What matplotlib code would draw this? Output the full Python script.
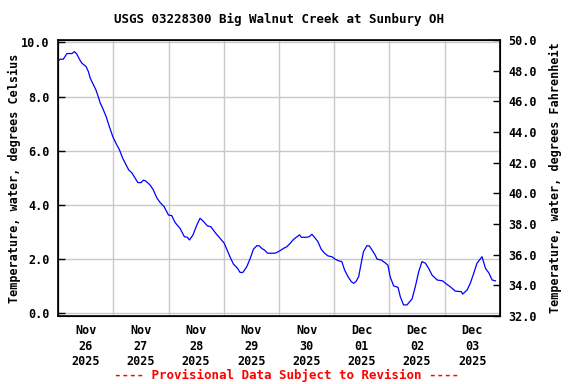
import matplotlib
matplotlib.use("Agg")
import matplotlib.pyplot as plt

# hours since Nov 26 2025 00:00 and water temperature (deg C)
hours = [0.3, 0.9, 2.3, 3.9, 6.1, 7.1, 8.1, 9.3, 10.4, 12.2, 13.2, 14.0, 15.1, 16.5,
         17.7, 18.4, 19.4, 20.9, 22.3, 23.8, 25.2, 26.7, 28.1, 29.6, 30.7, 32.0, 34.7,
         36.1, 37.1, 38.1, 40.0, 41.4, 42.9, 44.3, 46.1, 48.0, 49.4, 50.9, 53.0, 54.9,
         56.2, 57.1, 58.6, 60.3, 61.7, 62.9, 64.9, 66.4, 68.3, 70.4, 72.2, 73.3, 74.8,
         76.2, 78.0, 79.1, 80.3, 82.0, 83.5, 84.9, 86.4, 87.5, 88.6, 89.7, 91.0, 94.3,
         95.8, 98.0, 99.4, 100.9, 102.3, 103.8, 104.9, 105.7, 108.1, 109.1, 110.3, 111.4,
         112.9, 114.3, 115.8, 117.3, 119.0, 120.4, 121.9, 123.3, 124.5, 126.0, 127.4,
         128.4, 129.4, 130.6, 131.7, 132.7, 134.2, 135.2, 136.4, 137.8, 138.6, 140.4,
         142.2, 143.3, 144.3, 145.8, 147.7, 148.7, 150.1, 151.6, 153.8, 155.2, 156.7,
         158.1, 159.6, 161.0, 162.5, 164.7, 167.1, 168.3, 170.4, 172.6, 175.2, 175.8,
         177.7, 179.1, 180.6, 182.0, 184.2, 185.7, 187.1, 188.6, 190.0]
temp_c = [9.33, 9.38, 9.38, 9.59, 9.59, 9.66, 9.58, 9.38, 9.23, 9.11, 8.92, 8.68, 8.49, 8.24,
          7.94, 7.75, 7.57, 7.26, 6.89, 6.52, 6.27, 6.03, 5.72, 5.47, 5.29, 5.19, 4.82,
          4.82, 4.91, 4.88, 4.73, 4.55, 4.26, 4.09, 3.93, 3.62, 3.60, 3.34, 3.13, 2.82,
          2.80, 2.70, 2.88, 3.25, 3.50, 3.41, 3.22, 3.19, 2.97, 2.76, 2.58, 2.36, 2.06,
          1.81, 1.65, 1.50, 1.50, 1.71, 2.02, 2.36, 2.49, 2.48, 2.38, 2.33, 2.21, 2.21,
          2.27, 2.39, 2.45, 2.58, 2.72, 2.82, 2.89, 2.80, 2.80, 2.82, 2.91, 2.80,
          2.64, 2.36, 2.21, 2.11, 2.08, 1.99, 1.93, 1.90, 1.59, 1.34, 1.16,
          1.10, 1.16, 1.34, 1.84, 2.27, 2.49, 2.48, 2.33, 2.14, 1.99, 1.96,
          1.85, 1.77, 1.34, 1.00, 0.95, 0.60, 0.30, 0.30, 0.52, 0.97, 1.53,
          1.90, 1.84, 1.65, 1.40, 1.22, 1.19, 1.10, 0.97, 0.81, 0.79, 0.70,
          0.85, 1.10, 1.47, 1.84, 2.08, 1.65, 1.49, 1.22, 1.19]

day_labels = ["Nov\n26\n2025", "Nov\n27\n2025", "Nov\n28\n2025", "Nov\n29\n2025",
              "Nov\n30\n2025", "Dec\n01\n2025", "Dec\n02\n2025", "Dec\n03\n2025"]
c_ticks = [0, 2, 4, 6, 8, 10]
f_ticks = [32, 34, 36, 38, 40, 42, 44, 46, 48, 50]

font = "DejaVu Sans Mono"
plt.rcParams["font.family"] = font
plt.rcParams["font.weight"] = "bold"

fig = plt.figure(figsize=(5.76, 3.84), dpi=100)
ax = fig.add_axes([58 / 576, 68 / 384, 442 / 576, 276 / 384])

ax.plot(hours, temp_c, color="#0000ff", linewidth=0.9)

ax.set_xlim(0, 192)
ax.set_ylim(-0.11, 10.09)

ax.set_xticks(range(0, 193, 24))
ax.set_xticklabels([])
ax.set_xticks([12 + 24 * i for i in range(len(day_labels))], minor=True)
ax.set_xticklabels(day_labels, minor=True, fontsize=8.5, fontweight="bold", linespacing=1.25)
ax.tick_params(axis="x", which="both", length=0, pad=6)

ax.set_yticks(c_ticks)
ax.set_yticklabels(["%.1f" % v for v in c_ticks], fontsize=8.5, fontweight="bold")
ax.tick_params(axis="y", direction="in", length=5, width=1, pad=6)

ax.grid(True, which="major", color="#c8c8c8", linewidth=1)
ax.set_axisbelow(True)
for s in ax.spines.values():
    s.set_linewidth(1.2)

ax.set_ylabel("Temperature, water, degrees Celsius", fontsize=8.5, fontweight="bold", labelpad=0)

ax2 = ax.twinx()
ax2.set_ylim(32, 50)
ax2.set_yticks(f_ticks)
ax2.set_yticklabels(["%.1f" % v for v in f_ticks], fontsize=8.5, fontweight="bold")
ax2.tick_params(axis="y", direction="in", length=5, width=1, pad=6)
ax2.set_ylabel("Temperature, water, degrees Fahrenheit", fontsize=8.5, fontweight="bold",
               rotation=90, labelpad=9)

fig.text(279 / 576, 1 - 19 / 384, "USGS 03228300 Big Walnut Creek at Sunbury OH",
         ha="center", va="center", fontsize=9, fontweight="bold")
fig.text(286 / 576, 1 - 375 / 384, "---- Provisional Data Subject to Revision ----",
         ha="center", va="center", fontsize=9, fontweight="bold", color="#ff0000")

fig.savefig("out.png", dpi=100)
